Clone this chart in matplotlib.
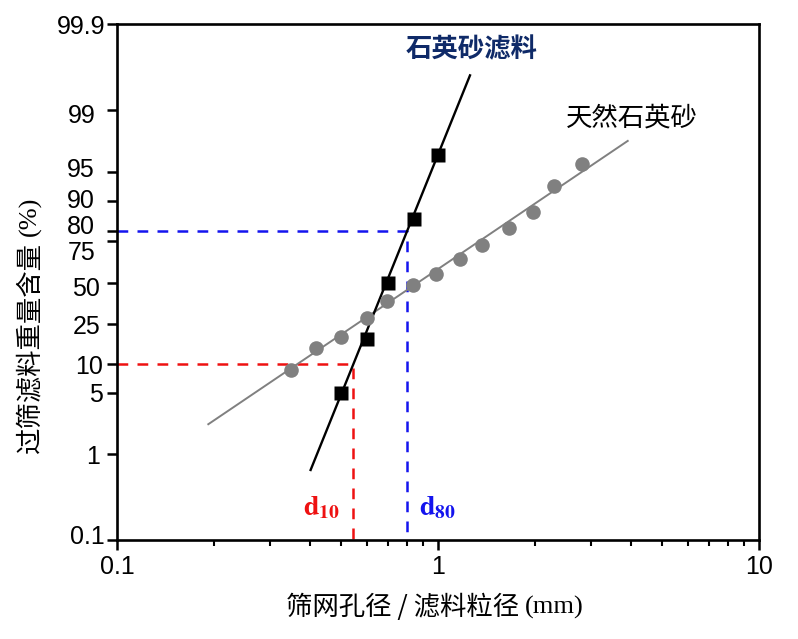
import numpy as np
import matplotlib
matplotlib.use("Agg")
import matplotlib.pyplot as plt
from matplotlib.ticker import LogLocator, NullFormatter, NullLocator
from matplotlib.transforms import ScaledTranslation
from statistics import NormalDist

# ---- data ----
filter_size = [0.5, 0.6, 0.7, 0.84, 1.0]            # 石英砂滤料, mm
filter_pass = [5.0, 18.2, 50.0, 84.5, 96.7]          # %
sand_size = [0.348, 0.416, 0.498, 0.600, 0.695, 0.834, 0.986,
             1.174, 1.368, 1.66, 1.98, 2.30, 2.80]     # 天然石英砂, mm
sand_pass = [8.7, 14.9, 19.3, 28.1, 38.4, 48.5, 55.4,
             64.6, 72.7, 81.0, 86.9, 93.0, 95.9]       # %
filter_fit_size = [0.401, 1.258]
filter_fit_pass = [0.683, 99.58]
sand_fit_size = [0.1925, 3.90]
sand_fit_pass = [2.31, 97.67]
d10 = 0.545
d80 = 0.80

x_ticks = [0.1, 1, 10]
x_tick_labels = ["0.1", "1", "10"]
y_ticks = [0.1, 1, 5, 10, 25, 50, 75, 80, 90, 95, 99, 99.9]
y_tick_labels = ["0.1", "1", "5", "10", "25", "50", "75", "80", "90", "95", "99", "99.9"]
# spacing of the probability paper (probit in the middle, stretched tails)
y_tick_spacing = [0, 85.7, 147.3, 176, 216, 257.3, 299.3, 309.3, 339, 367.7, 429.7, 516]
# hand placement of the y tick labels in the original (dx, dy in pixels)
label_nudge = {"99.9": (2, 0), "99": (-8, -3), "95": (-9, 5), "90": (-9, 2),
               "80": (-9, 6), "75": (-8, -10), "50": (-4, -4), "25": (-3, 0),
               "10": (-1, 0), "5": (-1, 0), "1": (-4, 0), "0.1": (1, 6)}

CJK = ["Noto Sans CJK SC", "DejaVu Sans"]
plt.rcParams["mathtext.fontset"] = "stix"

_nd = NormalDist()
_knot_z = np.array([_nd.inv_cdf(p / 100) for p in y_ticks])
_inv_cdf = np.vectorize(_nd.inv_cdf, otypes=[float])
_cdf = np.vectorize(_nd.cdf, otypes=[float])


def prob_forward(p):
    p = np.clip(np.asarray(p, dtype=float), 1e-4, 100 - 1e-4) / 100
    return np.interp(_inv_cdf(p), _knot_z, y_tick_spacing)


def prob_inverse(y):
    z = np.interp(np.asarray(y, dtype=float), y_tick_spacing, _knot_z)
    return 100 * _cdf(z)


fig = plt.figure(figsize=(7.98, 6.39), dpi=100)
ax = fig.add_axes([117 / 798, 99 / 639, 642 / 798, 516 / 639])
ax.set_xscale("log")
ax.set_yscale("function", functions=(prob_forward, prob_inverse))
ax.set_xlim(0.1, 10)
ax.set_ylim(0.1, 99.9)

# guide lines for d10 / d80
dash = (0, (4.3, 3.7))
ax.plot([0.1, d10, d10], [10, 10, 0.1], color="#ee1111", ls=dash, lw=1.8, zorder=1)
ax.plot([0.1, d80, d80], [80, 80, 0.1], color="#1414ee", ls=dash, lw=1.8, zorder=1)

# fitted lines and measured points
ax.plot(sand_fit_size, sand_fit_pass, color="#808080", lw=1.4, zorder=2)
ax.plot(filter_fit_size, filter_fit_pass, color="black", lw=1.7, zorder=2)
ax.plot(sand_size, sand_pass, "o", color="#808080", ms=10.5, mec="none", zorder=3)
ax.plot(filter_size, filter_pass, "s", color="black", ms=10, mec="none", zorder=4)

# ticks
ax.set_xticks(x_ticks, labels=x_tick_labels)
ax.xaxis.set_minor_locator(LogLocator(base=10, subs=np.arange(2, 10)))
ax.xaxis.set_minor_formatter(NullFormatter())
ax.set_yticks(y_ticks, labels=y_tick_labels)
ax.yaxis.set_minor_locator(NullLocator())
ax.tick_params(which="major", direction="out", length=7.5, width=1.8, labelsize=18)
ax.tick_params(axis="x", which="major", pad=3.5)
ax.tick_params(axis="y", which="major", pad=2)
ax.tick_params(which="minor", direction="out", length=4, width=1.5)
for lbl in ax.get_xticklabels() + ax.get_yticklabels():
    lbl.set_family("Liberation Sans")
for lbl in ax.get_yticklabels():
    dx, dy = label_nudge.get(lbl.get_text(), (0, 0))
    lbl.set_transform(lbl.get_transform()
                      + ScaledTranslation(dx / 100, dy / 100, fig.dpi_scale_trans))
for sp in ax.spines.values():
    sp.set_linewidth(1.9)

# annotations
ax.text(0.553, 0.9496, "石英砂滤料", transform=ax.transAxes, ha="center", va="center",
        fontsize=19, fontweight="bold", color="#0f2a68", family=CJK)
ax.text(0.699, 0.818, "天然石英砂", transform=ax.transAxes, ha="left", va="center",
        fontsize=19, fontweight="medium", color="black", family=CJK)
ax.text(0.2897, 0.0484, r"$\mathbf{d}_{\mathbf{10}}$", transform=ax.transAxes,
        ha="left", va="baseline", fontsize=20, color="#ee1111")
ax.text(0.4704, 0.0484, r"$\mathbf{d}_{\mathbf{80}}$", transform=ax.transAxes,
        ha="left", va="baseline", fontsize=20, color="#1414ee")

# axis titles (Chinese part in sans, units in serif)
xlab = fig.text(286 / 798, 1 - 607 / 639, "筛网孔径 / 滤料粒径", ha="left", va="center",
                fontsize=19, fontweight="medium", family=CJK)
ax.annotate("(mm)", xy=(1, 0.5), xycoords=xlab, xytext=(4, 0), textcoords="offset points",
            ha="left", va="center", fontsize=19, family="Liberation Serif",
            annotation_clip=False)
ylab = fig.text(30 / 798, (639 - 453) / 639, "过筛滤料重量含量", ha="center", va="bottom",
                rotation=90, fontsize=19, fontweight="medium", family=CJK)
ax.annotate("(%)", xy=(0.5, 1), xycoords=ylab, xytext=(0, 4), textcoords="offset points",
            ha="center", va="bottom", rotation=90, fontsize=19, family="Liberation Serif",
            annotation_clip=False)

fig.savefig("out.png", dpi=100)
